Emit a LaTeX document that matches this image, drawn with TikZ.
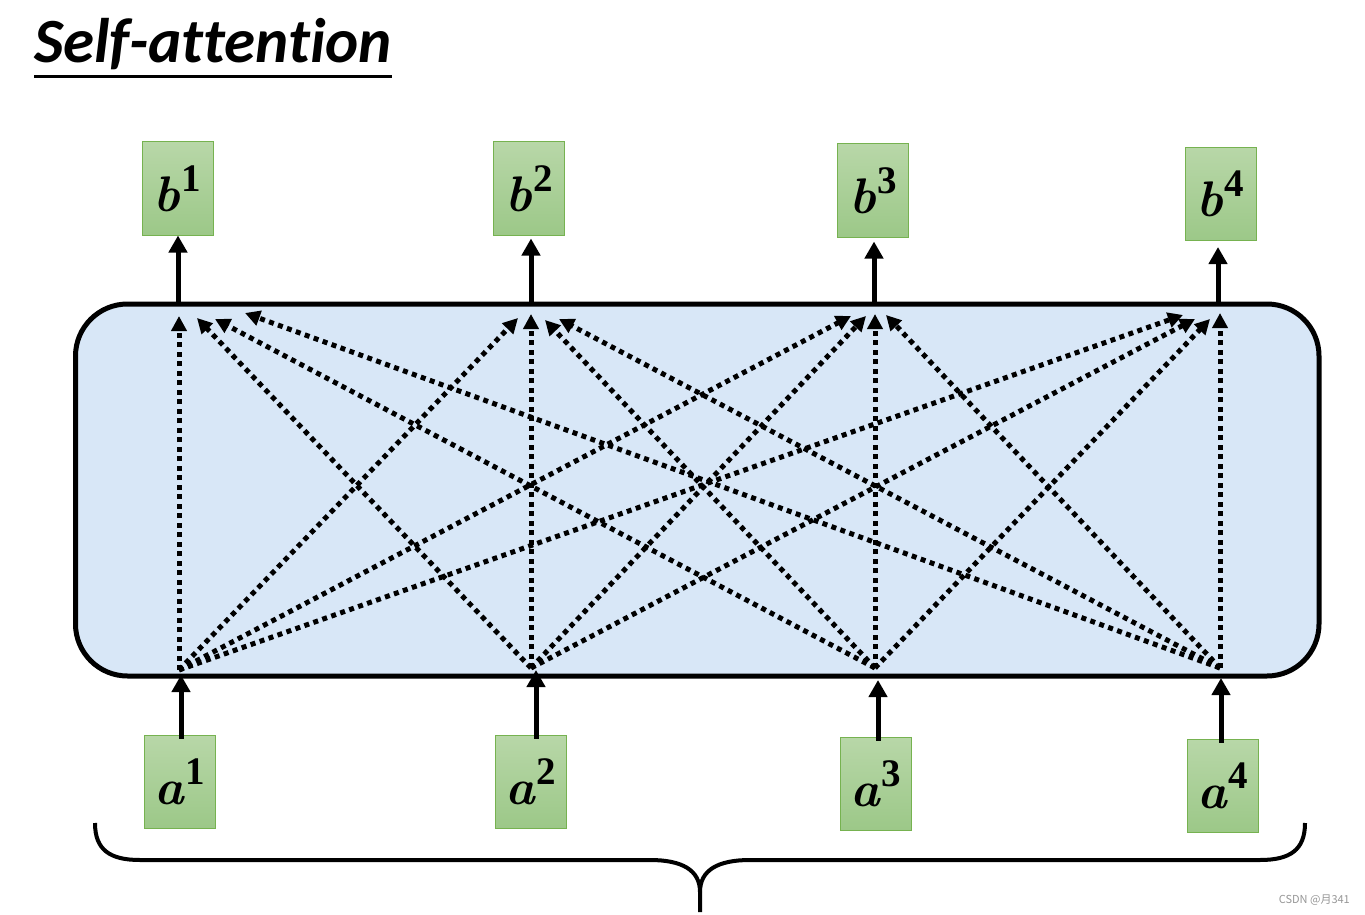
\documentclass[tikz,border=0pt]{standalone}
\usepackage{fontspec}
\usetikzlibrary{arrows.meta}
\newfontfamily\carl[Ligatures=NoCommon]{Carlito}
\newfontfamily\cjk{Noto Sans CJK SC}
\newfontfamily\digitfont{Liberation Serif}
\definecolor{boxtop}{RGB}{184,215,168}
\definecolor{boxbot}{RGB}{156,200,136}
\definecolor{boxline}{RGB}{118,178,80}
\definecolor{attnfill}{RGB}{216,231,247}
\definecolor{wmgrey}{RGB}{150,150,150}
\newcommand{\vecsym}[2]{{\bfseries\itshape #1}\kern1pt\raisebox{0.40em}{\digitfont\fontsize{39}{42}\selectfont\bfseries #2}}
\tikzset{
  vecbox/.style={draw=boxline, line width=1pt, top color=boxtop, bottom color=boxbot,
    minimum width=71pt, minimum height=93pt, inner sep=0pt,
    font=\fontsize{50}{56}\selectfont},
  solidarrow/.style={line width=5pt, -{Triangle[length=17pt,width=18pt]}},
  dotarrow/.style={line width=5pt, dash pattern=on 5pt off 4.5pt,
    -{Triangle[length=15pt,width=15pt]}},
}
\begin{document}
\begin{tikzpicture}[x=1pt,y=-1pt]
\useasboundingbox (0,0) rectangle (1365,915);
% title
\node[anchor=base west, inner sep=0pt, font=\carl\fontsize{63}{70}\selectfont\bfseries\itshape]
  (title) at (34,63) {Self-attention};
\draw[line width=3pt] ([yshift=-14pt]title.base west) -- ([yshift=-14pt]title.base east);

% attention block
\node[draw, line width=5pt, fill=attnfill, rounded corners=52pt,
  minimum width=1243.5pt, minimum height=372pt] (attn) at (697.25,490) {};

% output boxes
\node[vecbox] (b1) at (177.5,188.5) {\vecsym{b}{1}};
\node[vecbox] (b2) at (529,188.5) {\vecsym{b}{2}};
\node[vecbox] (b3) at (873,190.5) {\vecsym{b}{3}};
\node[vecbox] (b4) at (1220.5,194) {\vecsym{b}{4}};
% input boxes
\node[vecbox] (a1) at (180,781.5) {\vecsym{a}{1}};
\node[vecbox] (a2) at (531,781.5) {\vecsym{a}{2}};
\node[vecbox] (a3) at (875.5,783.5) {\vecsym{a}{3}};
\node[vecbox] (a4) at (1222.5,785.5) {\vecsym{a}{4}};

% ports on the block
\coordinate (o1) at (178,302);
\coordinate (o2) at (531,302);
\coordinate (o3) at (874,302);
\coordinate (o4) at (1218,302);
\coordinate (i1) at (181,675);
\coordinate (i2) at (536,670);
\coordinate (i3) at (878,680);
\coordinate (i4) at (1221,678);

% solid arrows
\draw[solidarrow] (o1) -- (o1 |- b1.south) ;
\draw[solidarrow] (o2) -- ([yshift=-3pt]o2 |- b2.south);
\draw[solidarrow] (o3) -- ([yshift=-4pt]o3 |- b3.south);
\draw[solidarrow] (o4) -- ([yshift=-6pt]o4 |- b4.south);
\draw[solidarrow] ([yshift=-4pt]i1 |- a1.north) -- (i1);
\draw[solidarrow] ([yshift=-4pt]i2 |- a2.north) -- (i2);
\draw[solidarrow] ([yshift=-4pt]i3 |- a3.north) -- (i3);
\draw[solidarrow] ([yshift=-4pt]i4 |- a4.north) -- (i4);

% sources and targets of attention
\coordinate (s1) at (179,670);
\coordinate (s2) at (531,668);
\coordinate (s3) at (875,668);
\coordinate (s4) at (1220,668);

\coordinate (t11) at (179,316);
\coordinate (t21) at (197,318);
\coordinate (t31) at (215,319);
\coordinate (t41) at (245,313);
\coordinate (t12) at (518,318);
\coordinate (t22) at (531,314);
\coordinate (t32) at (545,320);
\coordinate (t42) at (559,319);
\coordinate (t13) at (851,316);
\coordinate (t23) at (866,316);
\coordinate (t33) at (875,314);
\coordinate (t43) at (886,315);
\coordinate (t14) at (1183,315);
\coordinate (t24) at (1195,319);
\coordinate (t34) at (1210,319);
\coordinate (t44) at (1220,313);

\foreach \i in {1,2,3,4}{
  \foreach \j in {1,2,3,4}{
    \draw[dotarrow] (s\i) -- (t\i\j);
  }
}

% brace
\draw[line width=4pt] (95,823) .. controls (95,850) and (110,860) .. (140,860)
  -- (650,860) .. controls (682,860) and (700,870) .. (700,892) -- (700,912);
\draw[line width=4pt] (1305,823) .. controls (1305,850) and (1290,860) .. (1260,860)
  -- (750,860) .. controls (718,860) and (700,870) .. (700,892);

% watermark
\node[anchor=east, inner sep=0pt, text=wmgrey, font=\cjk\fontsize{11}{13}\selectfont]
  (wm) at (1350,900) {CSDN @月341};
\end{tikzpicture}
\end{document}
